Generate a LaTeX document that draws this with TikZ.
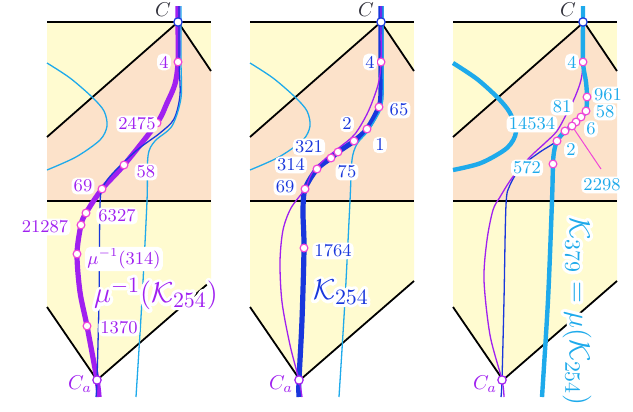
\documentclass[tikz,border=0pt]{standalone}
\usepackage{amsmath}
\definecolor{cyel}{RGB}{255,251,208}
\definecolor{cpeach}{RGB}{252,226,202}
\definecolor{cpurple}{RGB}{160,32,240}
\definecolor{cblue}{RGB}{25,55,220}
\definecolor{ccyan}{RGB}{30,170,235}
\definecolor{cmag}{RGB}{240,70,215}
\definecolor{cgray}{RGB}{50,50,60}
\newcommand\outl[1]{\leavevmode\rlap{\color{white}\special{pdf:literal direct 1 j 2 Tr 3.2 w}#1\special{pdf:literal direct 0 Tr 1 w}}#1}
\tikzset{
  lab/.style={inner sep=1.1pt, fill=white, rounded corners=2.5pt, font=\fontsize{9}{10}\selectfont},
  biglab/.style={inner sep=0pt, font=\fontsize{15}{18}\selectfont},
  clab/.style={inner sep=0pt, font=\fontsize{10}{12}\selectfont},
  dot/.style={circle, draw=cmag, fill=white, line width=0.6pt, inner sep=0pt, minimum size=3.9pt},
  cdot/.style={circle, draw=#1, fill=white, line width=0.6pt, inner sep=0pt, minimum size=4.2pt},
  border/.style={black, line width=0.9pt},
  fine/.style={line width=0.65pt},
}
\begin{document}
\begin{tikzpicture}[x=0.5pt,y=-0.5pt]
\useasboundingbox (0,0) rectangle (633,412);
% ---------- regions ----------
\foreach \L in {47,250,453}{
  \fill[cyel] (\L,22) rectangle (\L+164,201);
  \fill[cpeach] (\L,137) -- (\L+131,22) -- (\L+164,71) -- (\L+164,201) -- (\L,201) -- cycle;
  \fill[cyel] (\L,201) -- (\L+164,201) -- (\L+164,281) -- (\L+50,380) -- (\L,307) -- cycle;
  \draw[border] (\L,22) -- (\L+164,22);
  \draw[border] (\L,201) -- (\L+164,201);
  \draw[border] (\L,137) -- (\L+131,22) -- (\L+164,71);
  \draw[border] (\L,307) -- (\L+50,380) -- (\L+164,281);
}
% ---------- coordinates ----------
\coordinate (C1) at (178,22); \coordinate (A1) at (97,380);
\coordinate (p4) at (178,62); \coordinate (p2475) at (157,123);
\coordinate (p58) at (124,165); \coordinate (p69) at (102,189);
\coordinate (p6327) at (86,213); \coordinate (p21287) at (81,225);
\coordinate (p314) at (77,254); \coordinate (p1370) at (87,326);
\coordinate (C2) at (381,22); \coordinate (A2) at (299,380);
\coordinate (q4) at (381,62); \coordinate (q65) at (379,107);
\coordinate (q1) at (367,129); \coordinate (q2) at (354,141);
\coordinate (q75) at (338,152); \coordinate (q321) at (331,158);
\coordinate (q314) at (317,169); \coordinate (q69) at (305,189);
\coordinate (q1764) at (304,248);
\coordinate (C3) at (583,22); \coordinate (A3) at (502,380);
\coordinate (r4) at (583,62); \coordinate (r961) at (587,97);
\coordinate (r58) at (586,111); \coordinate (r81) at (581,117);
\coordinate (r14534) at (576,122); \coordinate (r6) at (572,126);
\coordinate (r2) at (565,131); \coordinate (r2298) at (557,141);
\coordinate (r572) at (553,164);
\coordinate (e2298) at (601,169);
% ---------- panel 1 curves ----------
\draw[ccyan, fine] plot[smooth] coordinates {(47,63) (70,78) (92,97) (104,111) (107,126) (100,140) (76,157) (47,170)};
\draw[cpurple, line width=2.6pt] plot[smooth] coordinates {(178,6) (C1) (p4) (175,84) (167,103) (p2475) (p58) (p69) (p6327) (p21287) (p314) (80,292) (p1370) (A1) (99,397)};
\draw[cblue, fine] plot[smooth] coordinates {(179,6) (179,22) (179,62) (180,95) (174,119) (160,133) (137,150) (113,173) (103,187) (100,205) (99,300) (A1) (96,397)};
\draw[ccyan, fine] plot[smooth] coordinates {(181,6) (181,22) (181,62) (181,98) (172,126) (155,141) (148,156) (147,201) (142,300) (136,397)};
% ---------- panel 2 curves ----------
\draw[ccyan, fine] plot[smooth] coordinates {(250,63) (273,78) (295,97) (307,111) (310,126) (303,140) (279,157) (250,170)};
\draw[cblue, line width=2.6pt] plot[smooth] coordinates {(381,6) (C2) (q4) (381,92) (q65) (q1) (q2) (q75) (q321) (q314) (q69) (303,212) (q1764) (302,320) (A2) (299,397)};
\draw[ccyan, fine] plot[smooth] coordinates {(383,6) (383,22) (383,62) (383,95) (380,111) (368,131) (357,144) (352,160) (350,201) (345,300) (339,397)};
\draw[cpurple, fine] plot[smooth] coordinates {(381,6) (C2) (q4) (378,85) (368,112) (355,134) (340,147) (325,159) (312,173) (q69) (291,208) (283,230) (280,262) (282,302) (290,345) (A2) (302,397)};
% ---------- panel 3 curves ----------
\draw[cblue, fine] plot[smooth] coordinates {(583,6) (C3) (r4) (586,82) (r961) (r58) (r81) (r6) (r2298) (540,152) (522,166) (510,185) (506,205) (504,300) (A3) (501,397)};
\draw[cpurple, fine] plot[smooth] coordinates {(583,6) (C3) (r4) (581,80) (575,97) (567,113) (557,131) (545,143) (530,157) (512,178) (500,197) (493,210) (487,240) (484,280) (490,335) (A3) (504,397)};
\draw[ccyan, line width=2.2pt] plot[smooth] coordinates {(453,63) (477,79) (498,98) (510,113) (516,132) (507,148) (481,163) (453,170)};
\draw[ccyan, line width=2.2pt] plot[smooth] coordinates {(583,6) (C3) (r4) (586,82) (r961) (r58) (r81) (r14534) (r6) (r2) (r2298) (554,152) (r572) (552,201) (548,300) (542,397)};
\draw[cmag, line width=0.5pt] (r6) -- (e2298);
% ---------- points ----------
\foreach \p in {p4,p2475,p58,p69,p6327,p21287,p314,p1370,
                q4,q65,q1,q2,q75,q321,q314,q69,q1764,
                r4,r961,r58,r81,r14534,r6,r2,r2298,r572}{
  \node[dot] (d\p) at (\p) {};
}
\foreach \c in {C1,C2,C3}{ \node[cdot=cblue] (d\c) at (\c) {}; }
\foreach \c in {A1,A2,A3}{ \node[cdot=cpurple] (d\c) at (\c) {}; }
% ---------- C labels ----------
\node[clab, text=cgray] (lC1) at (163,10) {$C$};
\node[clab, text=cgray] (lC2) at (366,10) {$C$};
\node[clab, text=cgray] (lC3) at (568,10) {$C$};
\node[clab, text=cpurple] (lA1) at (80,384) {\outl{$C_a$}};
\node[clab, text=cpurple] (lA2) at (281,384) {\outl{$C_a$}};
\node[clab, text=cpurple] (lA3) at (485,384) {\outl{$C_a$}};
% ---------- panel 1 labels ----------
\begin{scope}[every node/.append style={text=cpurple}]
\node[lab] (l4a) at (164,62) {4};
\node[lab] (l2475) at (137,124) {2475};
\node[lab] (l58a) at (146,172) {58};
\node[lab] (l69a) at (83,186) {69};
\node[lab] (l6327) at (117,216) {6327};
\node[lab] (l21287) at (45,227) {21287};
\node[lab] (l314a) at (124,259) {$\mu^{-1}(314)$};
\node[lab] (l1370) at (119,328) {1370};
\node[biglab] (big1) at (156,294) {\outl{$\mu^{-1}(\mathcal{K}_{254})$}};
\end{scope}
% ---------- panel 2 labels ----------
\begin{scope}[every node/.append style={text=cblue}]
\node[lab] (l4b) at (370,62) {4};
\node[lab] (l65) at (399,110) {65};
\node[lab] (l1) at (380,145) {1};
\node[lab] (l2b) at (347,124) {2};
\node[lab] (l321) at (309,147) {321};
\node[lab] (l314b) at (291,165) {314};
\node[lab] (l75) at (347,172) {75};
\node[lab] (l69b) at (285,187) {69};
\node[lab] (l1764) at (333,251) {1764};
\node[biglab] (big2) at (341,292) {\outl{$\mathcal{K}_{254}$}};
\end{scope}
% ---------- panel 3 labels ----------
\begin{scope}[every node/.append style={text=ccyan}]
\node[lab] (l4c) at (572,62) {4};
\node[lab] (l961) at (608,95) {961};
\node[lab] (l58c) at (605,112) {58};
\node[lab] (l81) at (562,107) {81};
\node[lab] (l14534) at (532,124) {14534};
\node[lab] (l6) at (591,129) {6};
\node[lab] (l2c) at (571,150) {2};
\node[lab] (l572) at (527,168) {572};
\node[lab] (l2298) at (602,185) {2298};
\node[biglab, rotate=-90, anchor=west] (big3) at (577,217) {\outl{$\mathcal{K}_{379}=\mu(\mathcal{K}_{254})$}};
\end{scope}
\end{tikzpicture}
\end{document}
